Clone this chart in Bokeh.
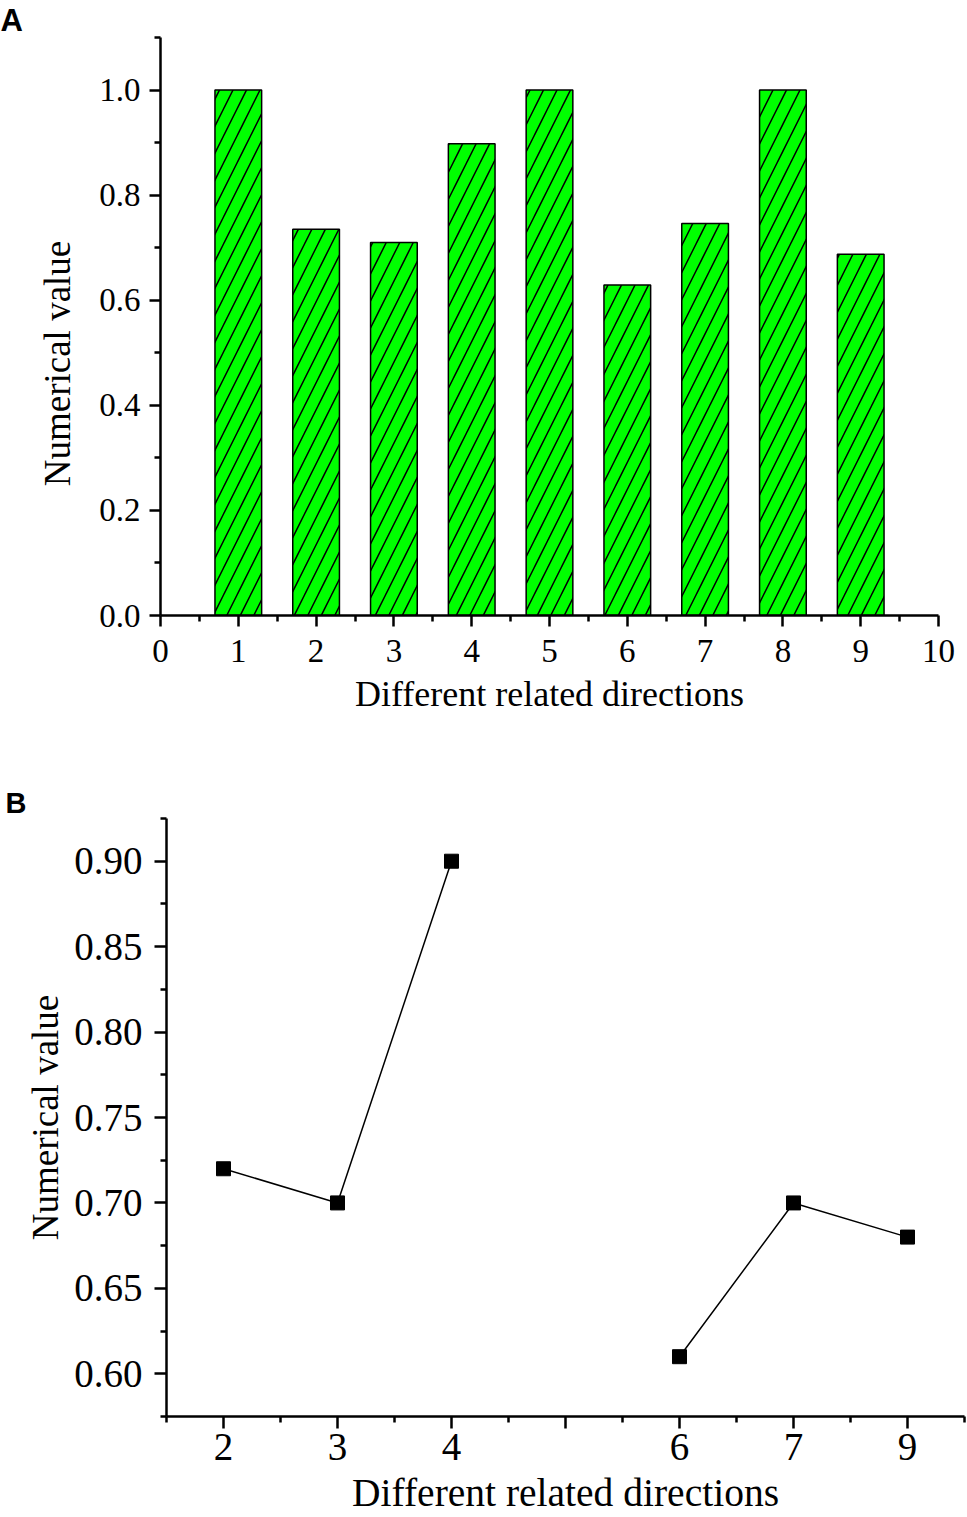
import numpy as np
from bokeh.plotting import figure
from bokeh.models import FixedTicker, Range1d, ColumnDataSource, NumeralTickFormatter
from bokeh.embed import file_html
from bokeh.resources import INLINE

# ---- data: panel A ----
a_directions = [1, 2, 3, 4, 5, 6, 7, 8, 9]
a_values = [1.0, 0.735, 0.71, 0.898, 1.0, 0.629, 0.746, 1.0, 0.6875]
a_xticks = [0, 1, 2, 3, 4, 5, 6, 7, 8, 9, 10]
a_yticks = [0.0, 0.2, 0.4, 0.6, 0.8, 1.0]

# ---- data: panel B ----
b_labels = ["2", "3", "4", "", "6", "7", "9"]
b_values = [0.72, 0.70, 0.90, np.nan, 0.61, 0.70, 0.68]
b_yticks = [0.60, 0.65, 0.70, 0.75, 0.80, 0.85, 0.90]

SERIF = "Liberation Serif"
SANS = "Liberation Sans"


def style_axis(ax, tick_size, tick_out, minor_out, standoff, label_size, label_standoff):
    ax.axis_line_color = "black"
    ax.axis_line_width = 2.5
    ax.major_tick_line_color = "black"
    ax.major_tick_line_width = 2.5
    ax.major_tick_in = 0
    ax.major_tick_out = tick_out
    ax.minor_tick_line_color = "black"
    ax.minor_tick_line_width = 2.5
    ax.minor_tick_in = 0
    ax.minor_tick_out = minor_out
    ax.major_label_text_font = SERIF
    ax.major_label_text_font_size = tick_size
    ax.major_label_text_color = "black"
    ax.major_label_standoff = standoff
    ax.axis_label_text_font = SERIF
    ax.axis_label_text_font_style = "normal"
    ax.axis_label_text_font_size = label_size
    ax.axis_label_text_color = "black"
    ax.axis_label_standoff = label_standoff


def style_title(p, text, size, offset):
    p.title.text = text
    p.title.text_font = SANS
    p.title.text_font_style = "bold"
    p.title.text_font_size = size
    p.title.text_color = "black"
    p.title.align = "left"
    p.title.offset = offset
    p.title.standoff = 0


# ================= Panel A =================
pa = figure(width=967, height=768, output_backend="svg", toolbar_location=None,
            x_range=Range1d(0, 10), y_range=Range1d(0, 1.1),
            min_border_left=160, min_border_right=29, min_border_top=33, min_border_bottom=153,
            x_axis_label="Different related directions",
            y_axis_label="Numerical value" + "\u00a0" * 8)
pa.outline_line_color = None
pa.xgrid.visible = False
pa.ygrid.visible = False
style_title(pa, "A", "31px", -160)

src_a = ColumnDataSource(dict(x=a_directions, top=a_values))
pa.vbar(x="x", top="top", width=0.6, bottom=0, source=src_a,
        fill_color="#00ff00", line_color="black", line_width=1.5,
        hatch_pattern="/", hatch_color="black", hatch_scale=27, hatch_weight=1.5)

pa.xaxis.ticker = FixedTicker(ticks=a_xticks,
                              minor_ticks=[t + 0.5 for t in a_xticks[:-1]])
pa.yaxis.ticker = FixedTicker(ticks=a_yticks,
                              minor_ticks=[round(0.1 + 0.2 * i, 2) for i in range(6)])
pa.yaxis.formatter = NumeralTickFormatter(format="0.0")
style_axis(pa.xaxis[0], "33px", 11, 6, 13, "36px", 9)
style_axis(pa.yaxis[0], "33px", 11, 6, 9, "37px", 18)

# ================= Panel B =================
b_x = list(range(1, len(b_labels) + 1))
pb = figure(width=967, height=749, output_backend="svg", toolbar_location=None,
            x_range=Range1d(0.5, len(b_labels) + 0.5), y_range=Range1d(0.575, 0.925),
            min_border_left=166, min_border_right=3, min_border_top=50, min_border_bottom=101,
            x_axis_label="Different related directions", y_axis_label="Numerical value")
pb.outline_line_color = None
pb.xgrid.visible = False
pb.ygrid.visible = False
style_title(pb, "B", "29px", -161)

src_b = ColumnDataSource(dict(x=b_x, y=b_values))
pb.line(x="x", y="y", source=src_b, line_color="black", line_width=1.5)
pb.scatter(x="x", y="y", source=src_b, marker="square", size=14,
           fill_color="black", line_color="black")

pb.xaxis.ticker = FixedTicker(ticks=b_x, minor_ticks=[i + 0.5 for i in range(len(b_labels) + 1)])
pb.xaxis.major_label_overrides = {x: lab for x, lab in zip(b_x, b_labels)}
pb.yaxis.ticker = FixedTicker(ticks=b_yticks,
                              minor_ticks=[round(0.575 + 0.05 * i, 3) for i in range(8)])
pb.yaxis.formatter = NumeralTickFormatter(format="0.00")
style_axis(pb.xaxis[0], "39px", 12, 6, 5, "39.5px", 8)
style_axis(pb.yaxis[0], "39px", 12, 6, 12, "37px", 5)

open("out.html", "w").write(file_html([pa, pb], INLINE))
